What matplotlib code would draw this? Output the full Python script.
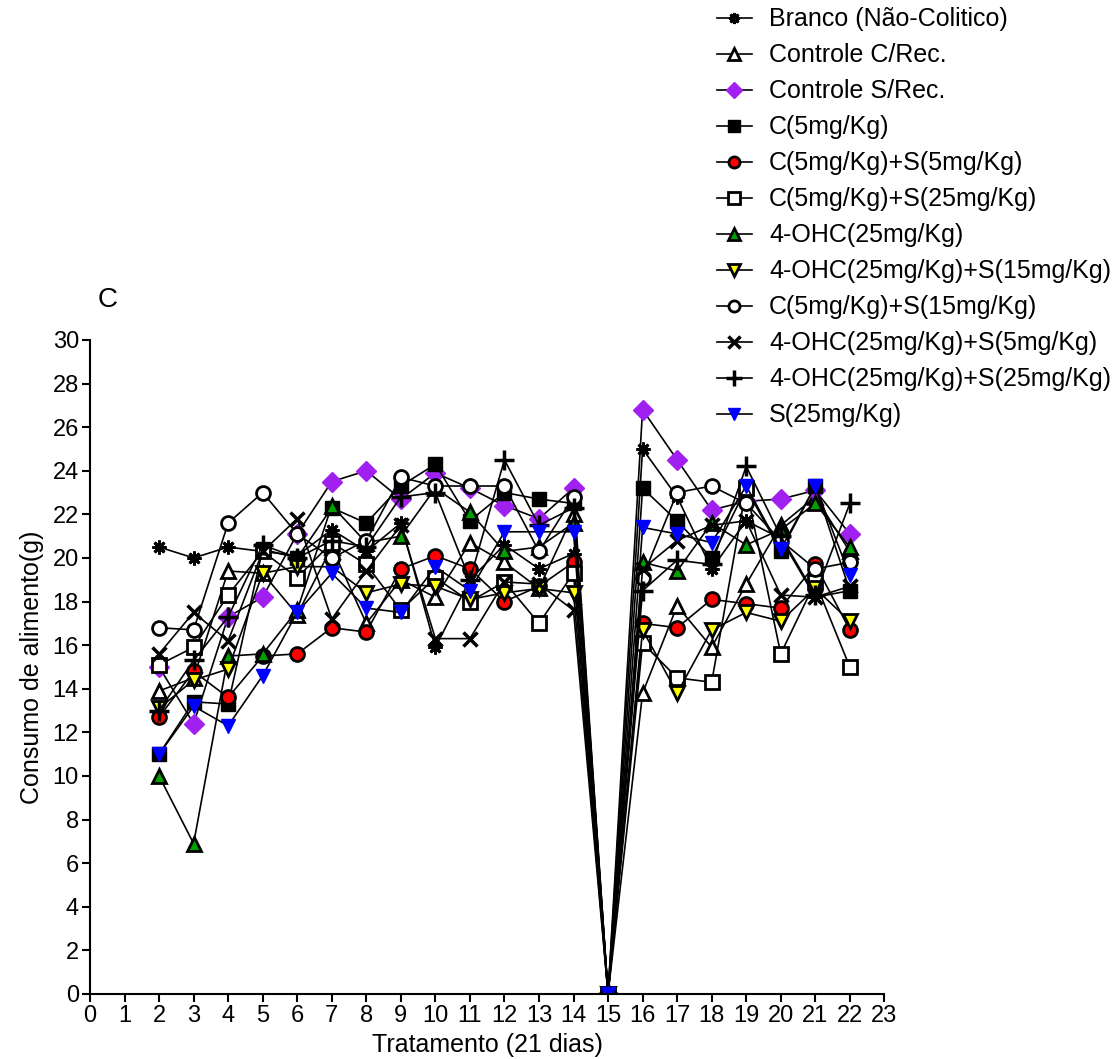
import matplotlib
matplotlib.use("Agg")
import matplotlib.pyplot as plt

plt.rcParams['font.family'] = ['Liberation Sans', 'DejaVu Sans']

# dias de tratamento
dias = list(range(2, 23))

# consumo de alimento (g) por grupo
branco = [20.5, 20.0, 20.5, 20.3, 20.1, 21.3, 20.3, 21.6, 15.9, 19.0, 20.6, 19.5, 20.2, 0,
          25.0, 22.8, 19.5, 21.7, 20.9, 18.2, 18.5]
controle_c = [13.9, 14.5, 19.4, 19.3, 17.4, 20.5, 17.0, 19.0, 18.2, 20.7, 19.8, 18.6, 22.0, 0,
              13.8, 17.8, 15.9, 18.8, 21.5, 22.8, 20.3]
controle_s = [15.0, 12.4, 17.3, 18.2, 21.1, 23.5, 24.0, 22.7, 23.9, 23.2, 22.4, 21.8, 23.2, 0,
              26.8, 24.5, 22.2, 22.6, 22.7, 23.1, 21.1]
c5 = [11.0, 13.4, 13.3, 20.4, 20.0, 22.3, 21.6, 23.3, 24.3, 21.7, 23.0, 22.7, 22.5, 0,
      23.2, 21.7, 20.0, 23.2, 20.3, 23.3, 18.5]
c5_s5 = [12.7, 14.8, 13.6, 15.5, 15.6, 16.8, 16.6, 19.5, 20.1, 19.5, 18.0, 18.7, 19.8, 0,
         17.0, 16.8, 18.1, 17.9, 17.7, 19.7, 16.7]
c5_s25 = [15.1, 15.9, 18.3, 20.3, 19.1, 20.7, 19.7, 17.6, 19.1, 18.0, 18.9, 17.0, 19.3, 0,
          16.1, 14.5, 14.3, 23.2, 15.6, 18.9, 15.0]
ohc25 = [10.0, 6.9, 15.5, 15.6, 17.6, 22.4, 20.7, 21.0, 23.2, 22.1, 20.3, 20.5, 21.6, 0,
         19.8, 19.4, 21.6, 20.6, 21.3, 22.5, 20.5]
ohc25_s15 = [13.1, 14.4, 14.9, 19.3, 19.6, 19.6, 18.4, 18.8, 18.7, 18.1, 18.4, 18.6, 18.4, 0,
             16.7, 13.8, 16.7, 17.5, 17.1, 18.6, 17.1]
c5_s15 = [16.8, 16.7, 21.6, 23.0, 21.1, 20.0, 20.8, 23.7, 23.3, 23.3, 23.3, 20.3, 22.8, 0,
          19.1, 23.0, 23.3, 22.5, 20.8, 19.5, 19.8]
ohc25_s5 = [15.6, 17.5, 16.2, 20.3, 21.8, 17.2, 19.4, 21.5, 16.3, 16.3, 18.9, 18.8, 17.6, 0,
            19.5, 20.8, 21.5, 21.7, 18.3, 18.2, 18.7]
ohc25_s25 = [13.0, 15.3, 17.3, 20.6, 20.0, 20.8, 20.5, 22.8, 23.0, 19.0, 24.5, 21.5, 22.3, 0,
             18.5, 19.9, 19.7, 24.2, 21.0, 18.3, 22.5]
s25 = [11.0, 13.2, 12.3, 14.6, 17.5, 19.3, 17.7, 17.5, 19.6, 18.5, 21.2, 21.2, 21.2, 0,
       21.4, 21.1, 20.7, 23.3, 20.4, 23.3, 19.2]

fig = plt.figure(figsize=(11.18, 10.59), dpi=100)
ax = fig.add_axes([0.0805, 0.0614, 0.7105, 0.6176])

lw = 1.2
ms = 10
ax.plot(dias, branco, color='black', lw=lw, marker=(8, 2, 0), ms=ms, mew=2, label='Branco (Não-Colitico)')
ax.plot(dias, controle_c, color='black', lw=lw, marker='^', ms=ms, mfc='white', mec='black', mew=2,
        label='Controle C/Rec.')
ax.plot(dias, controle_s, color='black', lw=lw, marker='D', ms=ms, mfc='#a020f0', mec='#a020f0',
        label='Controle S/Rec.')
ax.plot(dias, c5, color='black', lw=lw, marker='s', ms=ms, mfc='black', mec='black', label='C(5mg/Kg)')
ax.plot(dias, c5_s5, color='black', lw=lw, marker='o', ms=ms, mfc='red', mec='black', mew=2,
        label='C(5mg/Kg)+S(5mg/Kg)')
ax.plot(dias, c5_s25, color='black', lw=lw, marker='s', ms=ms, mfc='white', mec='black', mew=2,
        label='C(5mg/Kg)+S(25mg/Kg)')
ax.plot(dias, ohc25, color='black', lw=lw, marker='^', ms=ms, mfc='#00a000', mec='black', mew=2,
        label='4-OHC(25mg/Kg)')
ax.plot(dias, ohc25_s15, color='black', lw=lw, marker='v', ms=ms, mfc='yellow', mec='black', mew=2,
        label='4-OHC(25mg/Kg)+S(15mg/Kg)')
ax.plot(dias, c5_s15, color='black', lw=lw, marker='o', ms=ms, mfc='white', mec='black', mew=2,
        label='C(5mg/Kg)+S(15mg/Kg)')
ax.plot(dias, ohc25_s5, color='black', lw=lw, marker='x', ms=ms, mew=2.5,
        label='4-OHC(25mg/Kg)+S(5mg/Kg)')
ax.plot(dias, ohc25_s25, color='black', lw=lw, marker='+', ms=ms + 4, mew=2.5,
        label='4-OHC(25mg/Kg)+S(25mg/Kg)')
ax.plot(dias, s25, color='black', lw=lw, marker='v', ms=ms, mfc='blue', mec='blue',
        label='S(25mg/Kg)')

ax.set_xlim(0, 23)
ax.set_ylim(0, 30)
ax.set_xticks(range(0, 24))
ax.set_yticks(range(0, 31, 2))
ax.spines['top'].set_visible(False)
ax.spines['right'].set_visible(False)
ax.spines['left'].set_linewidth(1.5)
ax.spines['bottom'].set_linewidth(1.5)
ax.tick_params(direction='out', length=6, width=1.5, labelsize=17, pad=2)
ax.set_xlabel('Tratamento (21 dias)', fontsize=18, labelpad=4)
ax.set_ylabel('Consumo de alimento(g)', fontsize=18, labelpad=6)

fig.text(0.087, 0.71, 'C', fontsize=20)

fig.legend(loc='upper left', bbox_to_anchor=(0.641, 0.993), frameon=False, fontsize=18,
           handlelength=1.4, handletextpad=0.7, labelspacing=0.48, borderaxespad=0, borderpad=0,
           markerscale=0.8)

fig.savefig('out.png', dpi=100)
